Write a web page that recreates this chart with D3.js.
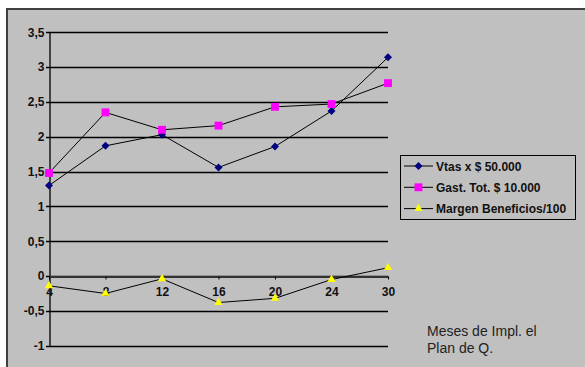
<!DOCTYPE html>
<html>
<head>
<meta charset="utf-8">
<script src="https://cdn.jsdelivr.net/npm/d3@7"></script>
<style>
  html, body { margin: 0; padding: 0; background: #fff; }
  svg { display: block; }
  text { font-family: Arial, "Liberation Sans", sans-serif; }
</style>
</head>
<body>
<svg id="chart" width="585" height="367"></svg>
<script>
// Months since the plan started
const months = ["4", "8", "12", "16", "20", "24", "30"];
// Sales in units of $50.000
const ventas = [1.30, 1.87, 2.03, 1.56, 1.86, 2.37, 3.14];
// Total expenses in units of $10.000
const gastos = [1.48, 2.35, 2.10, 2.16, 2.43, 2.47, 2.77];
// Profit margin / 100
const margen = [-0.14, -0.25, -0.04, -0.38, -0.32, -0.05, 0.12];
const yTicks = [-1, -0.5, 0, 0.5, 1, 1.5, 2, 2.5, 3, 3.5];
const seriesNames = ["Vtas x $ 50.000", "Gast. Tot. $ 10.000", "Margen Beneficios/100"];

const svg = d3.select("#chart");
const fmt = v => String(v).replace(".", ",");

// chart area background and frame
svg.append("rect")
  .attr("x", 7).attr("y", 9).attr("width", 590).attr("height", 370)
  .attr("fill", "#c0c0c0").attr("stroke", "#404040").attr("stroke-width", 2);

const x = d3.scalePoint().domain(months).range([49, 388]).padding(0);
const y = d3.scaleLinear().domain([-1, 3.5]).range([345.7, 32.3]);

// horizontal gridlines
svg.append("g").selectAll("line").data(yTicks).join("line")
  .attr("x1", 46).attr("x2", 388)
  .attr("y1", d => Math.round(y(d)) + 0.5).attr("y2", d => Math.round(y(d)) + 0.5)
  .attr("stroke", "#000").attr("stroke-width", 1.3);

// y axis
const yAxis = d3.axisLeft(y).tickValues(yTicks).tickFormat(fmt).tickSize(0).tickPadding(5);
const gy = svg.append("g").attr("transform", "translate(49.5,0)").call(yAxis);
gy.select(".domain").attr("stroke", "#000").attr("stroke-width", 1.3);
gy.selectAll("text").attr("font-size", 12).attr("font-weight", "bold").attr("fill", "#111")
  .attr("dx", 0);

// x axis along zero
const xAxis = d3.axisBottom(x).tickSizeInner(3).tickSizeOuter(0).tickPadding(8);
const gx = svg.append("g").attr("transform", `translate(0,${Math.round(y(0)) + 0.5})`).call(xAxis);
gx.select(".domain").attr("stroke", "#333").attr("stroke-width", 1.8);
gx.selectAll(".tick line").attr("stroke", "#000");
gx.selectAll("text").attr("font-size", 12).attr("font-weight", "bold").attr("fill", "#111");

const line = d3.line().x((d, i) => x(months[i])).y(d => y(d));

// square diamond marker
const diamond = {
  draw(ctx, size) {
    const r = Math.sqrt(size / 2);
    ctx.moveTo(0, -r); ctx.lineTo(r, 0); ctx.lineTo(0, r); ctx.lineTo(-r, 0); ctx.closePath();
  }
};

const series = [
  { name: seriesNames[0], values: ventas, sym: diamond, size: 32, color: "#000080" },
  { name: seriesNames[1], values: gastos, sym: d3.symbolSquare, size: 62, color: "#ff00ff" },
  { name: seriesNames[2], values: margen, sym: d3.symbolTriangle, size: 30, color: "#ffff00" }
];

series.forEach(s => {
  svg.append("path").datum(s.values).attr("d", line)
    .attr("fill", "none").attr("stroke", "#000").attr("stroke-width", 1);
  svg.append("g").selectAll("path").data(s.values).join("path")
    .attr("transform", (d, i) => `translate(${x(months[i])},${y(d)})`)
    .attr("d", d3.symbol().type(s.sym).size(s.size))
    .attr("fill", s.color);
});

// legend
const lg = svg.append("g");
lg.append("rect").attr("x", 400.5).attr("y", 155.5).attr("width", 175).attr("height", 64)
  .attr("fill", "#c0c0c0").attr("stroke", "#000").attr("stroke-width", 1);
series.forEach((s, i) => {
  const cy = 166 + i * 21.3;
  lg.append("line").attr("x1", 404).attr("x2", 433).attr("y1", cy).attr("y2", cy)
    .attr("stroke", "#000").attr("stroke-width", 1);
  lg.append("path").attr("transform", `translate(418.5,${cy})`)
    .attr("d", d3.symbol().type(s.sym).size(s.size)).attr("fill", s.color);
  lg.append("text").attr("x", 436).attr("y", cy + 4.5)
    .attr("font-size", 12).attr("font-weight", "bold").attr("fill", "#111").text(s.name);
});

// axis caption
const cap = svg.append("text").attr("font-size", 14).attr("fill", "#222");
cap.append("tspan").attr("x", 427).attr("y", 336).text("Meses de Impl. el");
cap.append("tspan").attr("x", 427).attr("y", 353).text("Plan de Q.");
</script>
</body>
</html>
